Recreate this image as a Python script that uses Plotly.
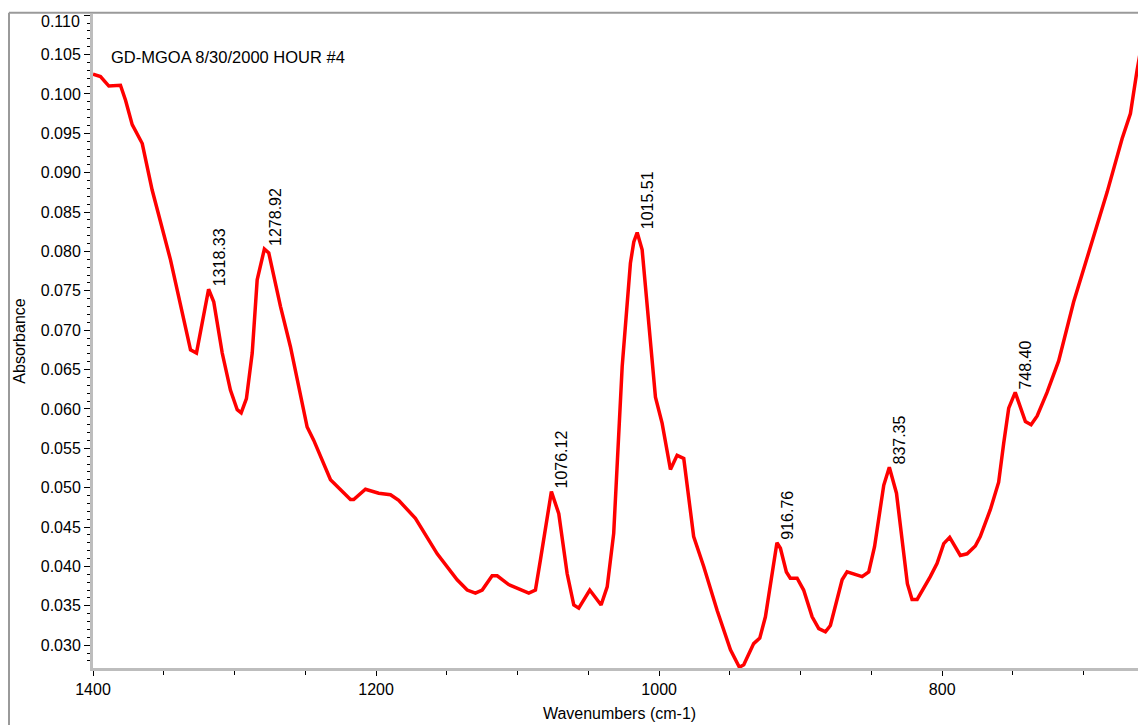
import plotly.graph_objects as go

wavenumbers = [1400, 1398.2, 1394.7, 1388.8, 1380.6, 1377.0, 1372.3, 1365.2, 1358.2, 1345.2,
               1331.1, 1326.9, 1318.33, 1314.7, 1308.7, 1302.9, 1298.1, 1295.3, 1291.6, 1287.5,
               1284.0, 1278.92, 1275.8, 1267.5, 1260.5, 1248.7, 1244.0, 1232.2, 1218.1, 1215.8,
               1207.5, 1198.1, 1189.8, 1184.0, 1172.2, 1156.8, 1142.7, 1135.6, 1129.8, 1125.0,
               1118.0, 1114.4, 1106.3, 1092.1, 1087.4, 1083.9, 1076.12, 1070.9, 1065.0, 1060.3,
               1056.8, 1049.0, 1041.0, 1036.7, 1032.1, 1026.1, 1020.3, 1017.9, 1015.51, 1012.0,
               1007.4, 1002.6, 997.9, 992.0, 987.3, 982.6, 975.6, 968.5, 959.0, 949.6,
               943.3, 940.2, 933.2, 928.9, 924.9, 916.76, 914.3, 910.1, 907.3, 902.5,
               897.9, 891.9, 887.2, 882.5, 879.0, 874.2, 870.7, 867.2, 861.3, 856.6,
               851.9, 847.8, 841.3, 837.35, 832.3, 828.8, 824.6, 821.3, 817.7, 808.4,
               803.6, 798.9, 794.7, 787.2, 782.4, 776.6, 773.1, 766.0, 760.1, 756.5,
               753.0, 748.40, 741.2, 737.2, 732.9, 725.9, 717.7, 707.1, 697.6, 683.5,
               672.9, 667.0, 662.3, 656.4, 652]

absorbance = [0.1025, 0.1024, 0.1022, 0.1010, 0.1011, 0.0992, 0.0961, 0.0937, 0.0878, 0.0789,
              0.0675, 0.0671, 0.0752, 0.0736, 0.0671, 0.0624, 0.0599, 0.0595, 0.0613, 0.0671,
              0.0764, 0.0803, 0.0798, 0.0730, 0.0679, 0.0577, 0.0560, 0.0510, 0.0485, 0.0485,
              0.0498, 0.0493, 0.0491, 0.0484, 0.0461, 0.0416, 0.0383, 0.0370, 0.0366, 0.0370,
              0.0388, 0.0388, 0.0377, 0.0366, 0.0370, 0.0408, 0.0495, 0.0467, 0.0391, 0.0351,
              0.0347, 0.0370, 0.0351, 0.0374, 0.0442, 0.0654, 0.0785, 0.0812, 0.0824, 0.0802,
              0.0713, 0.0615, 0.0582, 0.0523, 0.0541, 0.0537, 0.0438, 0.0400, 0.0344, 0.0294,
              0.0272, 0.0275, 0.0302, 0.0309, 0.0336, 0.0430, 0.0423, 0.0393, 0.0385, 0.0385,
              0.0370, 0.0336, 0.0321, 0.0317, 0.0325, 0.0357, 0.0383, 0.0393, 0.0390, 0.0387,
              0.0393, 0.0425, 0.0503, 0.0526, 0.0493, 0.0442, 0.0378, 0.0358, 0.0358, 0.0387,
              0.0404, 0.0429, 0.0437, 0.0414, 0.0416, 0.0426, 0.0438, 0.0472, 0.0507, 0.0557,
              0.0601, 0.0621, 0.0584, 0.0580, 0.0591, 0.0621, 0.0661, 0.0736, 0.0793, 0.0875,
              0.0943, 0.0975, 0.1030, 0.1090, 0.1115]

peak_wn = [1318.33, 1278.92, 1076.12, 1015.51, 916.76, 837.35, 748.40]
peak_abs = [0.0752, 0.0803, 0.0495, 0.0824, 0.0430, 0.0526, 0.0621]
peak_labels = ["1318.33", "1278.92", "1076.12", "1015.51", "916.76", "837.35", "748.40"]

y_tick_vals = [0.030, 0.035, 0.040, 0.045, 0.050, 0.055, 0.060, 0.065, 0.070,
               0.075, 0.080, 0.085, 0.090, 0.095, 0.100, 0.105, 0.110]
y_tick_text = ["0.030", "0.035", "0.040", "0.045", "0.050", "0.055", "0.060", "0.065", "0.070",
               "0.075", "0.080", "0.085", "0.090", "0.095", "0.100", "0.105", ""]
top_tick_label = "0.110"

title_text = "GD-MGOA 8/30/2000 HOUR #4"
x_title = "Wavenumbers (cm-1)"
y_title = "Absorbance"

FONT = "Liberation Sans, Arial, sans-serif"
FS = 16

# page has an 8px body margin, so the figure is sized to fill the window exactly
W, H = 1138, 717
ML, MT, MB = 85, 6, 57
PW = W - ML
PH = H - MT - MB

fig = go.Figure()
fig.add_trace(go.Scatter(x=wavenumbers, y=absorbance, mode="lines",
                         line=dict(color="#ff0000", width=3.5), hoverinfo="skip",
                         showlegend=False))

annotations = []
for w, a, t in zip(peak_wn, peak_abs, peak_labels):
    annotations.append(dict(x=w, y=a, xref="x", yref="y", text=t, showarrow=False,
                            textangle=-90, xanchor="left", yanchor="bottom",
                            xshift=0, yshift=1,
                            font=dict(family=FONT, size=FS, color="black")))
annotations.append(dict(x=16 / PW, y=1 - 43 / PH, xref="paper", yref="paper", text=title_text,
                        showarrow=False, xanchor="left", yanchor="middle",
                        font=dict(family=FONT, size=16.5, color="black")))
annotations.append(dict(x=-11 / PW, y=1 - 8 / PH, xref="paper", yref="paper", text=top_tick_label,
                        showarrow=False, xanchor="right", yanchor="middle",
                        xshift=0,
                        font=dict(family=FONT, size=FS, color="black")))

axis_line = "#bdbdbd"
frame_col = "#9a9a9a"

fx = -(ML - 1) / PW
fy = 1 + 1.3 / PH

fig.update_layout(
    width=W, height=H,
    margin=dict(l=ML, r=0, t=MT, b=MB, autoexpand=False),
    paper_bgcolor="white", plot_bgcolor="white",
    font=dict(family=FONT, size=FS, color="black"),
    annotations=annotations,
    shapes=[
        dict(type="line", xref="paper", yref="paper", x0=fx, x1=1.0, y0=fy, y1=fy,
             line=dict(color=frame_col, width=2)),
        dict(type="line", xref="paper", yref="paper", x0=fx, x1=fx, y0=fy, y1=-0.2,
             line=dict(color=frame_col, width=2)),
    ],
    xaxis=dict(range=[1400, 656], tickmode="linear", tick0=0, dtick=200, automargin=False,
               showgrid=False, zeroline=False, showline=True, linecolor=axis_line, linewidth=3,
               ticks="outside", ticklen=5, tickwidth=1, tickcolor="black",
               minor=dict(dtick=50, ticks="outside", ticklen=4, tickwidth=1, tickcolor="black",
                          showgrid=False),
               tickfont=dict(family=FONT, size=FS, color="black"),
               title=dict(text=x_title, font=dict(family=FONT, size=FS, color="black"), standoff=11)),
    yaxis=dict(range=[0.0271, 0.11015], tickmode="array", tickvals=y_tick_vals,
               ticktext=y_tick_text, automargin=False,
               showgrid=False, zeroline=False, showline=True, linecolor=axis_line, linewidth=3,
               ticks="outside", ticklen=6, tickwidth=1, tickcolor="black",
               minor=dict(dtick=0.001, tick0=0.030, ticks="outside", ticklen=3, tickwidth=1,
                          tickcolor="black", showgrid=False),
               tickfont=dict(family=FONT, size=FS, color="black"),
               title=dict(text=y_title, font=dict(family=FONT, size=FS, color="black"), standoff=12)),
)

fig.write_html("out.html")
